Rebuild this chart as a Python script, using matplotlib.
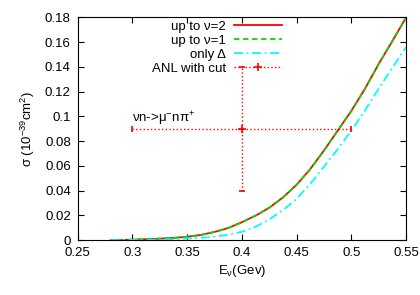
import numpy as np
import matplotlib
matplotlib.use('Agg')
import matplotlib.pyplot as plt
from matplotlib.lines import Line2D

# cross section curves (10^-39 cm^2 vs GeV)
energy = [0.28, 0.29, 0.30, 0.3125, 0.325, 0.3375, 0.35, 0.3625, 0.375, 0.3875,
          0.40, 0.4125, 0.425, 0.4375, 0.45, 0.4625, 0.475, 0.4875, 0.50, 0.5125,
          0.525, 0.5375, 0.55]
sigma_nu2 = [0.0, 0.0001, 0.0004, 0.0007, 0.0012, 0.0018, 0.0027, 0.0042, 0.0066, 0.0098,
             0.0145, 0.0198, 0.0262, 0.0345, 0.0448, 0.0575, 0.0725, 0.0885, 0.1045, 0.1225,
             0.1425, 0.161, 0.180]
sigma_nu1 = [0.0, 0.0001, 0.0004, 0.0007, 0.0012, 0.0018, 0.0027, 0.0042, 0.0066, 0.0098,
             0.0145, 0.0198, 0.0262, 0.0345, 0.0448, 0.0575, 0.0725, 0.0885, 0.1045, 0.1225,
             0.1425, 0.161, 0.180]
sigma_delta = [0.0, 0.0, 0.0001, 0.0002, 0.0004, 0.0008, 0.0013, 0.0019, 0.0028, 0.0044,
               0.0067, 0.0108, 0.0167, 0.0242, 0.0335, 0.0455, 0.0595, 0.0735, 0.0885, 0.105,
               0.1225, 0.1395, 0.156]

# ANL point
anl_e = [0.4]
anl_sigma = [0.09]
anl_xerr = [0.1]
anl_yerr = [0.05]

plt.rcParams['font.family'] = ['Liberation Sans', 'DejaVu Sans']
plt.rcParams['mathtext.fontset'] = 'custom'
plt.rcParams['mathtext.rm'] = 'Liberation Sans'
plt.rcParams['mathtext.it'] = 'Liberation Sans'
plt.rcParams['font.size'] = 9.5

fig = plt.figure(figsize=(4.2, 2.95), dpi=100)
ax = fig.add_axes([0.185, 0.186, 0.782, 0.755])

ax.plot(energy, sigma_nu2, color='red', lw=1.3, label='up to \u03bd=2')
ax.plot(energy, sigma_nu1, color='#00dd00', lw=1.3, ls=(0, (3, 2)), label='up to \u03bd=1')
ax.plot(energy, sigma_delta, color='cyan', lw=1.3, ls=(0, (5, 2, 1, 2)), label='only \u0394')
eb = ax.errorbar(anl_e, anl_sigma, xerr=anl_xerr, yerr=anl_yerr, fmt='+', color='red',
                 ms=6, mew=1.2, ecolor='red', elinewidth=1.0, capsize=2, capthick=1.0)
for line in eb[2]:
    line.set_linestyle(':')

ax.text(0.3, 0.095, '\u03bdn->\u03bc$^{-}$n\u03c0$^{+}$', fontsize=9.5)

handles = [Line2D([], [], color='red', lw=1.3),
           Line2D([], [], color='#00dd00', lw=1.3, ls=(0, (3, 2))),
           Line2D([], [], color='cyan', lw=1.3, ls=(0, (5, 2, 1, 2))),
           Line2D([], [], color='red', lw=1.0, ls=':', marker='+', ms=6, mew=1.2)]
labels = ['up to \u03bd=2', 'up to \u03bd=1', 'only \u0394', 'ANL with cut']
ax.legend(handles, labels, loc='upper right', bbox_to_anchor=(0.645, 1.02),
          frameon=False, markerfirst=False, handlelength=3.6, handletextpad=0.6,
          labelspacing=0.12, borderaxespad=0.2, fontsize=9.5)

ax.set_xlim(0.25, 0.55)
ax.set_ylim(0, 0.18)
ax.set_xticks([0.25, 0.3, 0.35, 0.4, 0.45, 0.5, 0.55])
ax.set_xticklabels(['0.25', '0.3', '0.35', '0.4', '0.45', '0.5', '0.55'])
ax.set_yticks(np.arange(0, 0.181, 0.02))
ax.set_yticklabels(['0', '0.02', '0.04', '0.06', '0.08', '0.1', '0.12', '0.14', '0.16', '0.18'])
ax.tick_params(direction='in', top=True, right=True, length=4, width=0.8)
ax.tick_params(axis='x', pad=5)
ax.tick_params(axis='y', pad=5)

ax.set_xlabel('E$_{\u03bd}$(Gev)', labelpad=3)
ax.set_ylabel('\u03c3 (10$^{-39}$cm$^{2}$)', labelpad=6)

fig.savefig('out.png', dpi=100)
